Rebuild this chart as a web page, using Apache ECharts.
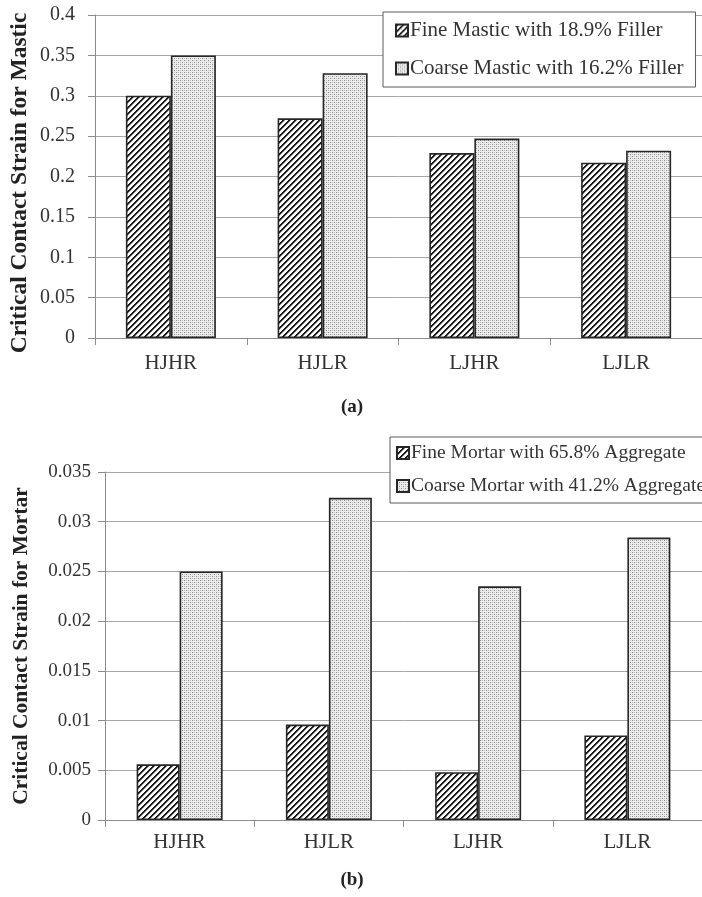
<!DOCTYPE html>
<html>
<head>
<meta charset="utf-8">
<script src="https://cdn.jsdelivr.net/npm/echarts@6/dist/echarts.min.js"></script>
<style>
  html, body { margin: 0; padding: 0; background: #fff; }
  #chart { width: 702px; height: 897px; }
</style>
</head>
<body>
<div id="chart"></div>
<script>
// Mix designs on the x axis of both panels
const categories = ['HJHR', 'HJLR', 'LJHR', 'LJLR'];

// Panel (a): mastic
const masticFine = [0.300, 0.272, 0.229, 0.217];
const masticCoarse = [0.350, 0.328, 0.247, 0.232];
const masticTicks = { min: 0, max: 0.4, interval: 0.05 };

// Panel (b): mortar
const mortarFine = [0.0056, 0.0096, 0.0048, 0.0085];
const mortarCoarse = [0.0250, 0.0324, 0.0235, 0.0284];
const mortarTicks = { min: 0, max: 0.035, interval: 0.005 };

const SERIF = '"Liberation Serif", "Times New Roman", serif';

// Diagonal hatch tile ("////")
function hatchTile() {
  const n = 6;
  const c = document.createElement('canvas');
  c.width = n; c.height = n;
  const ctx = c.getContext('2d');
  const img = ctx.createImageData(n, n);
  for (let y = 0; y < n; y++) {
    for (let x = 0; x < n; x++) {
      const k = (x + y) % n;
      const v = k < 2 ? 25 : (k === 2 ? 150 : 255);
      const i = (y * n + x) * 4;
      img.data[i] = v; img.data[i + 1] = v; img.data[i + 2] = v; img.data[i + 3] = 255;
    }
  }
  ctx.putImageData(img, 0, 0);
  return c;
}

// Fine stipple tile
function dotTile() {
  const n = 4;
  const c = document.createElement('canvas');
  c.width = n; c.height = n;
  const ctx = c.getContext('2d');
  ctx.fillStyle = '#ececec';
  ctx.fillRect(0, 0, n, n);
  ctx.fillStyle = '#8a8a8a';
  ctx.fillRect(0, 0, 1, 1);
  ctx.fillRect(2, 2, 1, 1);
  ctx.fillStyle = '#c4c4c4';
  ctx.fillRect(2, 0, 1, 1);
  ctx.fillRect(0, 2, 1, 1);
  return c;
}

const hatchFill = { image: hatchTile(), repeat: 'repeat' };
const dotFill = { image: dotTile(), repeat: 'repeat' };

const barStyle = (fill) => ({ color: fill, borderColor: '#262626', borderWidth: 1.6 });

function xAxisFor(gridIndex, labelSize, margin) {
  return {
    type: 'category', gridIndex, data: categories,
    axisLine: { lineStyle: { color: '#8c8c8c', width: 1 } },
    axisTick: { show: true, length: 7, lineStyle: { color: '#8c8c8c' } },
    axisLabel: { color: '#333', fontFamily: SERIF, fontSize: labelSize, margin }
  };
}

function yAxisFor(gridIndex, ticks, labelSize, margin) {
  return {
    type: 'value', gridIndex,
    min: ticks.min, max: ticks.max, interval: ticks.interval,
    axisLine: { show: true, lineStyle: { color: '#8c8c8c', width: 1 } },
    axisTick: { show: true, length: 7, lineStyle: { color: '#8c8c8c' } },
    splitLine: { lineStyle: { color: '#a6a6a6', width: 1 } },
    axisLabel: {
      color: '#333', fontFamily: SERIF, fontSize: labelSize, margin,
      formatter: (v) => String(parseFloat(v.toFixed(4)))
    }
  };
}

const chart = echarts.init(document.getElementById('chart'), null, { renderer: 'canvas' });

chart.setOption({
  animation: false,
  backgroundColor: '#fff',
  grid: [
    { left: 95, top: 15, width: 612, height: 323 },
    { left: 105, top: 472, width: 606, height: 348 }
  ],
  xAxis: [xAxisFor(0, 21, 15), xAxisFor(1, 21, 12)],
  yAxis: [yAxisFor(0, masticTicks, 20, 20), yAxisFor(1, mortarTicks, 19, 14)],
  legend: [
    {
      data: ['Fine Mastic with 18.9% Filler', 'Coarse Mastic with 16.2% Filler'],
      orient: 'vertical', left: 383, top: 12,
      padding: [8, 12, 8, 12], itemGap: 17,
      itemWidth: 12, itemHeight: 12, icon: 'rect',
      borderColor: '#5a5a5a', borderWidth: 1, backgroundColor: '#fff',
      textStyle: { color: '#333', fontFamily: SERIF, fontSize: 21, padding: [0, 0, 0, -3] }
    },
    {
      data: ['Fine Mortar with 65.8% Aggregate', 'Coarse Mortar with 41.2% Aggregate'],
      orient: 'vertical', left: 390, top: 437,
      padding: [6, 12, 7, 6], itemGap: 13,
      itemWidth: 12, itemHeight: 12, icon: 'rect',
      borderColor: '#5a5a5a', borderWidth: 1, backgroundColor: '#fff',
      textStyle: { color: '#333', fontFamily: SERIF, fontSize: 19.5, padding: [0, 0, 0, -3] }
    }
  ],
  graphic: [
    {
      type: 'text', x: 20, y: 183, rotation: Math.PI / 2,
      style: {
        text: 'Critical Contact Strain for Mastic', fill: '#222',
        font: 'bold 23.5px ' + SERIF, align: 'center', verticalAlign: 'middle'
      }
    },
    {
      type: 'text', x: 21, y: 646, rotation: Math.PI / 2,
      style: {
        text: 'Critical Contact Strain for Mortar', fill: '#222',
        font: 'bold 21.5px ' + SERIF, align: 'center', verticalAlign: 'middle'
      }
    },
    {
      type: 'text', x: 352, y: 407,
      style: { text: '(a)', fill: '#222', font: 'bold 19px ' + SERIF, align: 'center', verticalAlign: 'middle' }
    },
    {
      type: 'text', x: 352, y: 880,
      style: { text: '(b)', fill: '#222', font: 'bold 19px ' + SERIF, align: 'center', verticalAlign: 'middle' }
    }
  ],
  series: [
    {
      name: 'Fine Mastic with 18.9% Filler', type: 'bar', xAxisIndex: 0, yAxisIndex: 0,
      data: masticFine, barWidth: 45, barGap: '0%', itemStyle: barStyle(hatchFill)
    },
    {
      name: 'Coarse Mastic with 16.2% Filler', type: 'bar', xAxisIndex: 0, yAxisIndex: 0,
      data: masticCoarse, barWidth: 45, barGap: '0%', itemStyle: barStyle(dotFill)
    },
    {
      name: 'Fine Mortar with 65.8% Aggregate', type: 'bar', xAxisIndex: 1, yAxisIndex: 1,
      data: mortarFine, barWidth: 43, barGap: '0%', itemStyle: barStyle(hatchFill)
    },
    {
      name: 'Coarse Mortar with 41.2% Aggregate', type: 'bar', xAxisIndex: 1, yAxisIndex: 1,
      data: mortarCoarse, barWidth: 43, barGap: '0%', itemStyle: barStyle(dotFill)
    }
  ]
});
</script>
</body>
</html>
